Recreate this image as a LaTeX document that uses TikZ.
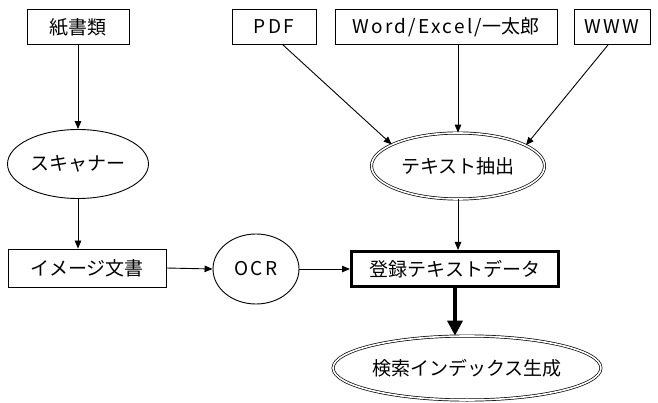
\documentclass[tikz,border=0pt]{standalone}
\usepackage{fontspec}
\setmainfont{Noto Sans CJK JP}
\newfontfamily\latwide[LetterSpace=12]{Noto Sans CJK JP}
\usetikzlibrary{arrows.meta,shapes.geometric,calc}

\begin{document}
\begin{tikzpicture}[x=1pt,y=-1pt,
  font=\fontsize{19}{22}\selectfont,
  srcbox/.style={draw,line width=0.9pt,rectangle,inner sep=0pt,minimum height=35pt},
  oval/.style={draw,line width=0.9pt,ellipse,inner sep=0pt},
  dbloval/.style={ellipse,inner sep=0pt,draw,line width=0.7pt,double,double distance=1.6pt},
  flow/.style={line width=0.9pt,-{Triangle[length=8pt,width=6.5pt]}},
  heavy/.style={line width=3.5pt,-{Triangle[length=15pt,width=15pt]}}]

  \useasboundingbox (0,0) rectangle (658,403);

  % sources
  \node[srcbox,minimum width=102pt] (paper) at (78,27) {紙書類};
  \node[srcbox,minimum width=84pt]  (pdf)   at (274,27) {\latwide PDF};
  \node[srcbox,minimum width=222pt] (word)  at (446,27) {{\latwide Word/Excel/}一太郎};
  \node[srcbox,minimum width=76pt]  (www)   at (612,27) {\latwide WWW};

  % processing steps
  \node[oval,minimum width=141pt,minimum height=69pt] (scan) at (78,164) {スキャナー};
  \node[dbloval,minimum width=173pt,minimum height=66pt] (tx) at (458,166) {テキスト抽出};
  \node[srcbox,minimum width=158pt,minimum height=38pt] (img) at (87,268) {イメージ文書};
  \node[oval,minimum width=86pt,minimum height=70pt] (ocr) at (256,269) {\latwide OCR};
  \node[draw,line width=3pt,rectangle,inner sep=0pt,minimum width=207pt,minimum height=35pt]
    (reg) at (455,269) {登録テキストデータ};
  \node[dbloval,minimum width=262pt,minimum height=64pt] (idx) at (467,368) {検索インデックス生成};

  % connectors
  \draw[flow] (paper.south -| scan.north) -- (scan.north);
  \draw[flow] (scan.south) -- (scan.south |- img.north);
  \draw[flow] ($(pdf.south)+(9,0)$) -- (tx.162);
  \draw[flow] (word.south -| tx.north) -- (tx.north);
  \draw[flow] ($(www.south)+(-4,0)$) -- (tx.17);
  \draw[flow] (img.east) -- (ocr.west);
  \draw[flow] (ocr.east) -- (reg.west);
  \draw[flow] (tx.south) -- (tx.south |- reg.north);
  \draw[heavy] (reg.south) -- (reg.south |- idx.north);
\end{tikzpicture}
\end{document}
